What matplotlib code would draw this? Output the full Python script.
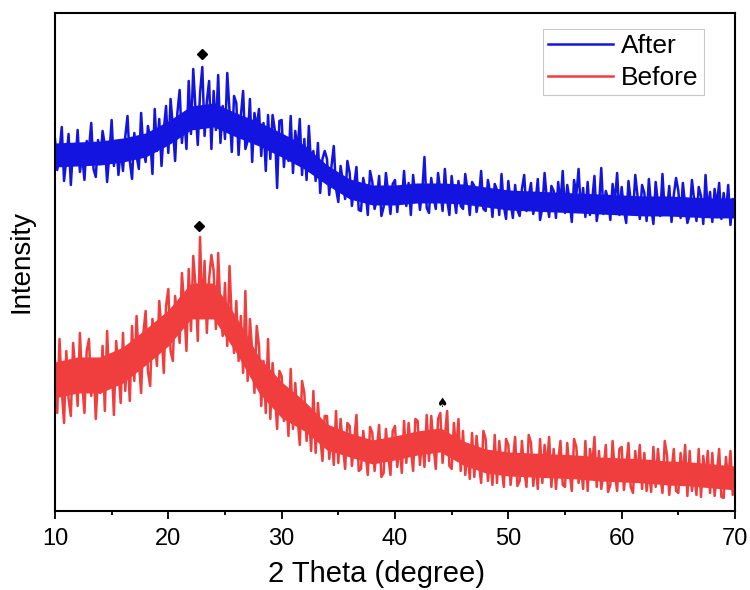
import numpy as np
import matplotlib
matplotlib.use("Agg")
import matplotlib.pyplot as plt
from matplotlib.ticker import MultipleLocator

plt.rcParams['font.family'] = ['Liberation Sans', 'DejaVu Sans']

# intensities, 2 theta = 10..70 in 0.2 degree steps
after = [
    372, 341, 360, 384, 330,  352, 377, 326, 365, 348,  381, 339, 355, 331, 370,
    362, 388, 342, 334, 371,  349, 380, 366, 329, 357,  391, 345, 370, 336, 362,
    340, 374, 395, 350, 332,  378, 355, 342, 398, 361,  349, 385, 372, 337, 402,
    360, 392, 345, 381, 405,  358, 412, 384, 350, 398,  421, 368, 395, 362, 430,
    377, 442, 402, 366, 418,  444, 375, 410, 430, 362,  420, 381, 436, 368, 405,
    372, 438, 400, 359, 415,  408, 356, 395, 420, 362,  370, 412, 349, 398, 383,
    402, 355, 388, 340, 396,  352, 396, 381, 323, 390,  391, 344, 372, 350, 395,
    338, 380, 360, 392, 336,  372, 331, 385, 345, 360,  330, 368, 318, 352, 360,
    352, 316, 345, 365, 322,  309, 345, 330, 312, 350,  338, 305, 326, 344, 301,
    300, 333, 321, 296, 340,  329, 302, 312, 335, 295,  304, 338, 318, 297, 327,
    331, 299, 322, 309, 340,  305, 328, 296, 336, 314,  326, 301, 319, 354, 303,
    298, 333, 315, 302, 338,  320, 300, 342, 311, 296,  335, 314, 298, 330, 305,
    302, 337, 320, 296, 329,  325, 299, 313, 340, 302,  300, 331, 318, 294, 327,
    321, 296, 337, 305, 292,  330, 309, 293, 326, 301,  295, 322, 336, 300, 315,
    328, 297, 309, 332, 291,  303, 338, 311, 294, 325,  320, 293, 329, 306, 340,
    298, 326, 312, 289, 331,  316, 342, 300, 323, 294,  329, 296, 311, 335, 290,
    305, 343, 297, 320, 312,  291, 327, 309, 338, 296,  324, 301, 288, 330, 310,
    297, 336, 315, 292, 326,  318, 290, 332, 304, 287,  329, 308, 295, 337, 299,
    301, 325, 289, 316, 333,  320, 293, 328, 306, 288,  296, 331, 311, 290, 324,
    315, 287, 336, 300, 319,  289, 322, 305, 328, 292,  318, 297, 326, 286, 312,
    308,
]
before = [
    150, 98, 172, 120, 88,  160, 112, 95, 168, 140,  105, 178, 128, 98, 160,
    172, 115, 150, 92, 135,  118, 165, 100, 180, 125,  150, 96, 170, 140, 108,
    178, 120, 160, 110, 185,  130, 195, 150, 118, 178,  200, 140, 125, 192, 170,
    145, 210, 180, 138, 205,  222, 160, 150, 215, 190,  168, 238, 205, 160, 242,
    180, 255, 225, 170, 274,  195, 250, 178, 232, 256,  240, 182, 258, 200, 175,
    228, 165, 245, 190, 158,  210, 150, 195, 138, 220,  130, 192, 160, 118, 185,
    165, 105, 150, 98, 172,  92, 148, 118, 82, 140,  135, 90, 120, 75, 142,
    82, 128, 95, 66, 130,  118, 70, 102, 60, 120,  58, 108, 75, 50, 95,
    95, 52, 80, 46, 100,  48, 92, 66, 42, 88,  85, 45, 70, 96, 40,
    42, 80, 58, 36, 84,  78, 40, 62, 86, 34,  38, 82, 55, 36, 80,
    85, 44, 68, 38, 90,  48, 88, 62, 40, 92,  90, 46, 72, 44, 96,
    50, 95, 66, 42, 92,  98, 48, 74, 100, 45,  42, 88, 60, 92, 40,
    80, 36, 62, 32, 78,  34, 75, 48, 28, 80,  72, 30, 55, 26, 76,
    28, 70, 45, 24, 72,  66, 26, 50, 74, 25,  30, 70, 42, 24, 76,
    68, 25, 48, 22, 72,  28, 66, 44, 74, 24,  62, 22, 50, 70, 26,
    24, 68, 40, 20, 72,  64, 28, 46, 22, 70,  20, 62, 44, 74, 24,
    60, 22, 40, 66, 19,  26, 70, 38, 20, 62,  64, 21, 44, 68, 24,
    18, 60, 36, 66, 22,  58, 20, 42, 19, 64,  24, 62, 36, 18, 70,
    56, 16, 40, 62, 20,  18, 58, 34, 66, 15,  60, 20, 38, 16, 62,
    14, 55, 32, 60, 18,  58, 15, 36, 62, 14,  13, 54, 30, 60, 16,
    40,
]
theta_after = np.linspace(10, 70, len(after))
theta_before = np.linspace(10, 70, len(before))

# dense middle of each noisy trace, read every 2 degrees (10..70)
core_theta = np.arange(10, 71, 2)
after_core_lo = [344, 345, 346, 349, 354, 366, 381, 384, 374, 365, 354, 342, 326, 312, 306, 306,
                 308, 308, 307, 304, 301, 300, 299, 298, 297, 296, 295, 295, 294, 293, 293]
after_core_hi = [368, 369, 370, 373, 378, 390, 405, 408, 398, 389, 378, 366, 346, 332, 326, 326,
                 328, 328, 327, 324, 321, 320, 319, 318, 317, 316, 315, 315, 314, 313, 313]
before_core_lo = [113, 118, 118, 128, 146, 165, 192, 192, 158, 118, 93, 80, 61, 54, 47, 51,
                  56, 59, 46, 38, 35, 34, 33, 32, 30, 29, 28, 26, 25, 23, 21]
before_core_hi = [149, 154, 154, 164, 182, 201, 228, 228, 194, 154, 129, 110, 87, 78, 71, 75,
                  80, 83, 70, 62, 59, 58, 57, 56, 54, 53, 52, 50, 49, 47, 45]

# peak marks
diamond_x = [23.0, 22.7]
diamond_y = [457, 285]
spade_x = 44.15
spade_y = 107

blue = '#1414e0'
red = '#f03e3e'

fig = plt.figure(figsize=(7.5, 5.9), dpi=100)
ax = fig.add_axes([0.0733, 0.134, 0.9067, 0.844])

ax.fill_between(core_theta, after_core_lo, after_core_hi, color=blue, lw=0)
ax.fill_between(core_theta, before_core_lo, before_core_hi, color=red, lw=0)
ax.plot(theta_after, after, color=blue, lw=1.8, label='After')
ax.plot(theta_before, before, color=red, lw=1.8, label='Before')
ax.plot(diamond_x, diamond_y, 'D', color='black', ms=5)
ax.text(spade_x, spade_y, '\u2660', ha='center', va='center', fontsize=9,
        family='DejaVu Sans')

ax.set_xlim(10, 70)
ax.set_ylim(0, 498)
ax.xaxis.set_major_locator(MultipleLocator(10))
ax.xaxis.set_minor_locator(MultipleLocator(5))
ax.tick_params(axis='x', which='major', direction='out', length=6, width=1.3,
               labelsize=17, pad=6)
ax.tick_params(axis='x', which='minor', direction='out', length=3, width=1.3)
ax.set_yticks([])
for s in ax.spines.values():
    s.set_linewidth(1.5)

ax.set_xlabel('2 Theta (degree)', fontsize=21)
ax.xaxis.set_label_coords(0.4735, -0.098)
ax.set_ylabel('Intensity', fontsize=20, labelpad=15)

leg = ax.legend(loc='upper right', bbox_to_anchor=(0.954, 0.968), fontsize=19,
                frameon=True, fancybox=False, edgecolor='#bbbbbb',
                handlelength=2.45, handletextpad=0.3, borderpad=0.2,
                labelspacing=0.3, borderaxespad=0)
leg.get_frame().set_linewidth(0.8)
for h in leg.get_lines():
    h.set_linewidth(1.8)

fig.savefig('out.png', dpi=100)
